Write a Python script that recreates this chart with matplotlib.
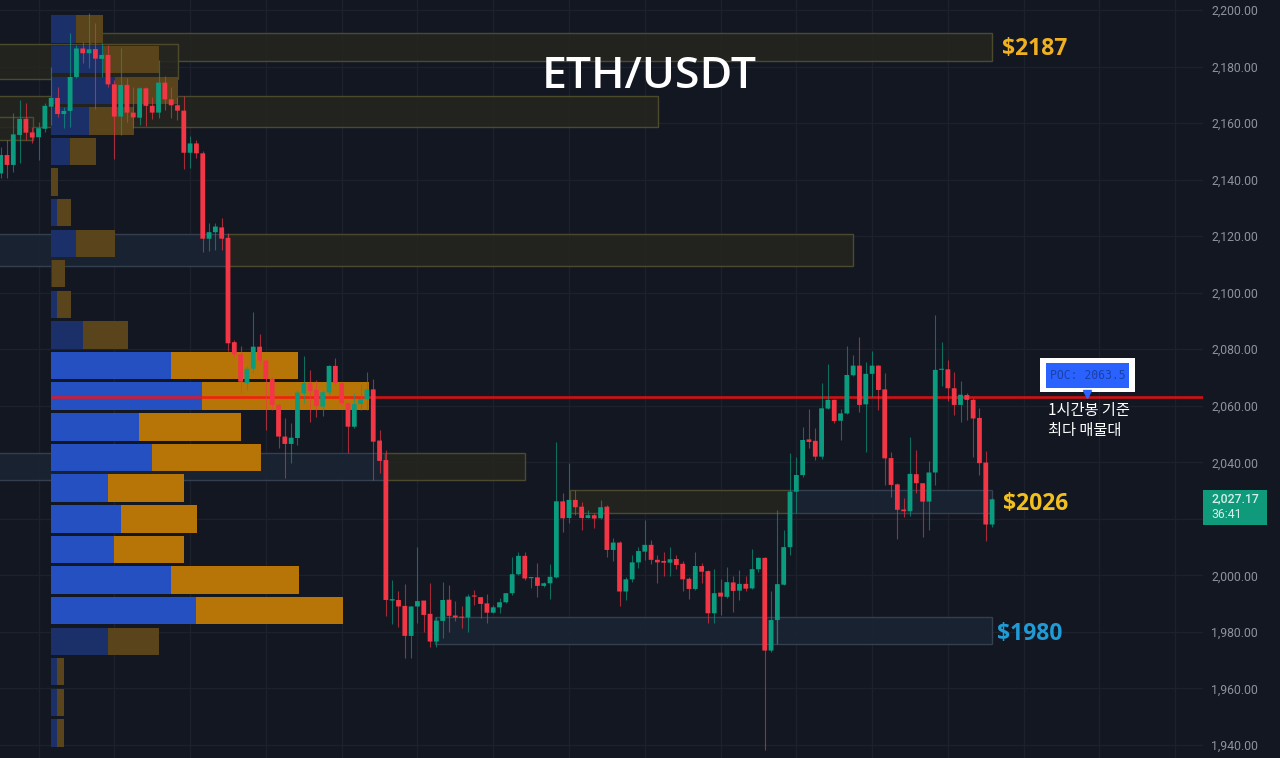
import numpy as np
import matplotlib
matplotlib.use("Agg")
import matplotlib.pyplot as plt
from matplotlib.patches import Rectangle

# candles, one entry per bar
opens = [2142.2,2148.7,2145.2,2155.8,2161.5,2156.7,2155.0,2158.0,2165.8,2168.9,2163.2,2164.3,2176.3,2186.4,2184.7,2186.2,2182.7,2184.1,2173.7,2162.3,
         2173.5,2163.7,2161.9,2172.3,2166.1,2163.7,2174.3,2168.4,2166.3,2164.4,2149.5,2152.8,2149.3,2119.1,2121.4,2123.1,2119.4,2082.5,2078.2,2068.0,
         2073.1,2080.9,2076.0,2069.5,2060.3,2049.1,2046.5,2048.6,2064.4,2068.0,2065.6,2059.7,2064.7,2074.1,2068.0,2060.9,2052.6,2060.6,2062.3,2065.8,
         2047.7,2040.8,1991.1,1991.3,1989.2,1978.6,1989.0,1991.1,1986.4,1976.6,1983.9,1991.4,1985.8,1985.4,1985.1,1992.7,1992.3,1990.1,1986.8,1988.7,
         1990.5,1993.7,2000.4,2006.9,1999.0,1999.3,1996.3,1997.2,1999.3,2026.2,2020.3,2026.7,2024.3,2020.3,2021.3,2020.2,2024.3,2009.0,2011.6,1994.3,
         1998.6,2004.6,2008.4,2010.8,2005.5,2005.1,2004.5,2005.8,2004.1,1998.8,1995.2,2003.3,2001.5,1986.6,1993.9,1992.4,1997.5,1994.6,1997.0,1995.4,
         2002.2,2006.2,1973.4,1984.2,1996.7,2010.0,2029.6,2035.5,2048.1,2047.6,2042.0,2059.0,2062.1,2054.7,2057.3,2070.8,2074.2,2060.5,2071.3,2074.2,
         2065.8,2041.5,2032.2,2023.3,2022.7,2035.8,2032.6,2026.1,2036.4,2072.7,2072.9,2066.2,2060.3,2063.8,2062.1,2055.7,2039.9,2018.0]
highs = [2151.7,2154.0,2163.5,2168.2,2167.0,2158.7,2160.5,2167.0,2180.0,2172.7,2165.8,2191.8,2187.6,2188.8,2198.8,2195.3,2188.2,2187.6,2175.2,2186.4,
         2175.8,2172.7,2172.7,2172.7,2169.3,2182.3,2176.7,2172.9,2169.3,2169.6,2155.4,2154.0,2150.3,2124.5,2124.5,2126.3,2121.2,2083.3,2081.2,2073.9,
         2093.3,2085.4,2076.2,2070.3,2060.9,2055.6,2053.8,2065.6,2077.6,2072.7,2069.1,2065.6,2074.4,2077.0,2068.5,2061.5,2064.4,2067.7,2072.1,2069.4,
         2051.5,2044.4,1998.2,1994.6,1997.0,1989.0,2010.0,1991.1,1997.2,1985.4,1997.5,1996.6,1991.1,1989.0,1993.4,1994.9,1992.5,1993.4,1989.6,1991.9,
         1993.9,2006.6,2008.1,2008.1,1999.6,2004.3,1997.5,2004.0,2047.1,2029.0,2039.9,2030.2,2026.1,2023.2,2022.0,2026.7,2024.9,2013.1,2012.0,1999.6,
         2007.2,2010.2,2019.6,2012.5,2007.2,2008.1,2010.0,2007.2,2005.1,1999.6,2008.1,2004.3,2001.9,2002.2,1998.6,2003.1,1999.8,2001.9,1999.8,2009.2,
         2006.6,2006.4,1994.3,2023.2,2016.1,2043.2,2042.0,2052.6,2058.8,2052.0,2068.0,2074.8,2062.3,2058.8,2081.2,2078.0,2084.5,2075.6,2079.5,2074.4,
         2071.7,2043.8,2032.6,2027.3,2048.9,2044.4,2032.8,2040.6,2092.1,2082.7,2076.2,2072.1,2068.9,2064.4,2062.6,2059.1,2044.1,2027.2]
lows = [2140.5,2140.5,2142.8,2145.8,2154.0,2153.1,2147.0,2157.0,2159.3,2162.3,2158.2,2158.7,2175.8,2181.1,2179.4,2164.9,2176.4,2172.9,2147.2,2155.8,
        2160.5,2158.2,2159.3,2159.0,2161.3,2161.7,2164.6,2161.7,2161.1,2143.7,2144.2,2147.5,2114.5,2114.8,2115.1,2115.1,2079.2,2077.4,2064.4,2065.6,
        2071.5,2074.4,2051.5,2058.5,2045.0,2034.4,2039.7,2046.1,2060.9,2054.4,2056.2,2056.4,2063.8,2067.4,2060.3,2043.2,2052.0,2058.5,2058.5,2033.8,
        2036.1,1985.8,1982.8,1981.9,1970.7,1970.7,1983.1,1980.1,1974.6,1974.8,1977.8,1979.8,1983.7,1981.3,1980.1,1989.6,1984.8,1983.1,1986.6,1986.8,
        1990.1,1993.1,2000.2,1998.2,1995.4,1992.3,1995.8,1991.6,1999.0,2015.5,2018.4,2021.4,2016.1,2020.2,2016.7,2019.9,2006.4,2005.2,1989.2,1991.3,
        1997.8,2002.5,2005.5,2004.1,1997.2,1999.8,1999.8,2002.2,1994.3,1991.6,1994.9,1997.2,1983.1,1983.3,1986.0,1991.9,1987.2,1991.3,1994.3,1995.1,
        2001.3,1938.3,1973.0,1975.8,1996.5,2007.2,2022.0,2034.9,2045.0,2040.8,2041.1,2058.8,2053.8,2047.9,2057.1,2070.6,2057.9,2043.8,2063.0,2058.5,
        2032.0,2027.9,2012.8,2020.8,2021.0,2029.3,2013.5,2016.1,2032.0,2067.0,2061.8,2056.6,2054.4,2055.0,2042.0,2035.5,2012.3,2017.0]
closes = [2148.7,2145.2,2156.0,2161.5,2156.6,2154.9,2158.2,2166.1,2168.9,2163.2,2164.3,2176.3,2186.4,2184.7,2186.1,2182.8,2184.1,2173.7,2162.3,2173.5,
          2163.7,2162.0,2172.3,2166.1,2163.7,2174.3,2168.4,2166.3,2164.4,2149.5,2152.8,2149.3,2119.1,2121.4,2123.4,2119.1,2082.1,2078.2,2068.5,2073.1,
          2080.9,2076.0,2069.5,2060.3,2049.1,2046.5,2048.7,2064.7,2068.0,2065.2,2059.9,2064.8,2074.1,2068.0,2060.9,2052.6,2060.6,2062.3,2065.8,2047.3,
          2040.5,1991.3,1991.6,1989.0,1978.6,1989.0,1990.9,1986.0,1976.6,1984.0,1991.3,1985.7,1985.1,1985.0,1992.5,1992.5,1989.9,1986.8,1988.7,1990.5,
          1993.7,2000.4,2006.9,1998.9,1999.3,1996.3,1997.2,1999.5,2026.2,2020.2,2026.7,2024.1,2020.3,2021.3,2020.1,2024.1,2009.0,2011.6,1994.3,1998.6,
          2004.6,2008.6,2010.8,2005.5,2004.6,2004.5,2005.7,2003.7,1998.6,1995.2,2003.3,2001.3,1986.6,1993.7,1992.5,1997.6,1994.5,1997.0,1995.3,2002.2,
          2006.2,1973.4,1984.2,1996.9,2010.0,2029.6,2035.5,2047.9,2047.2,2042.0,2059.1,2062.1,2054.6,2057.3,2070.9,2074.2,2060.3,2071.3,2074.2,2065.6,
          2041.4,2032.0,2023.2,2022.7,2035.9,2032.6,2026.1,2036.4,2072.7,2072.9,2066.2,2060.3,2063.9,2062.1,2055.5,2039.7,2018.0,2026.9]

# volume profile
vp_levels = [2193.3,2182.5,2171.6,2160.8,2150.0,2139.1,2128.3,2117.5,2106.7,2095.8,2085.0,2074.2,
             2063.4,2052.5,2041.7,2030.9,2020.0,2009.2,1998.4,1987.6,1976.7,1965.9,1955.1,1944.2]
vp_buy = [25,52,64,38,19,0,6,25,1,6,32,120,151,88,101,57,70,63,120,145,57,6,6,6]
vp_sell = [27,56,63,45,26,7,14,39,13,14,45,126,166,102,108,76,76,70,127,146,51,7,7,7]

# zones: left bar, right bar, low, high, colour kind
zone_left = [14.1,-2,-2,-2,-2,36.0,-2,60.9,90.2,125.0,68.8,123.0]
zone_right = [157.0,28.1,104.1,5.1,36.0,135.0,60.9,83.0,125.0,157.0,123.0,157.0]
zone_low = [2181.9,2175.6,2158.6,2154.0,2109.4,2109.4,2033.8,2033.8,2022.1,2022.1,1975.8,1975.8]
zone_high = [2191.9,2188.0,2169.6,2162.1,2120.8,2120.8,2043.3,2043.3,2030.2,2030.2,1985.3,1985.3]
zone_kind = ["y","y","y","y","b","y","b","y","y","b","b","b"]

price_ticks = [1940,1960,1980,2000,2020,2040,2060,2080,2100,2120,2140,2160,2180,2200]
poc = 2063.5
last_price = 2027.17

BG = "#131722"
UP = "#0b9c80"
DOWN = "#f23645"
BAR_PX = 6.314

plt.rcParams["font.family"] = ["Noto Sans CJK KR", "DejaVu Sans"]
fig = plt.figure(figsize=(12.8, 7.58), dpi=100, facecolor=BG)
ax = fig.add_axes([0, 0, 1203 / 1280, 1], facecolor=BG)
ax.set_xlim(-0.106, 190.4)
ax.set_ylim(1935.4, 2203.54)

for s in ax.spines.values():
    s.set_visible(False)
ax.set_axisbelow(True)
ax.set_xticks(np.arange(6, 190, 12))
ax.set_yticks(price_ticks)
# 2,020.00 sits behind the last price badge
ax.set_yticklabels(["" if p == 2020 else f"{p:,.2f}" for p in price_ticks], family="Roboto", fontsize=8.8, color="#8d929c")
ax.yaxis.tick_right()
ax.tick_params(axis="y", length=0, pad=6)
ax.tick_params(axis="x", length=0, labelbottom=False)
ax.grid(color="#1d212c", lw=1)

# zones
for l, r, lo, hi, k in zip(zone_left, zone_right, zone_low, zone_high, zone_kind):
    if k == "y":
        ax.add_patch(Rectangle((l, lo), r - l, hi - lo, fc="#25261f", ec="#55532f", lw=1, zorder=1, alpha=0.85))
    else:
        ax.add_patch(Rectangle((l, lo), r - l, hi - lo, fc="#1a2433", ec="#3a4656", lw=1, zorder=1, alpha=0.85))

# volume profile, bright rows are the value area
vp_start = 50.8 / BAR_PX
for i in range(len(vp_levels)):
    bright = 11 <= i <= 19
    c1 = "#2450c2" if bright else "#1b3068"
    c2 = "#b87507" if bright else "#5a441c"
    ax.barh(vp_levels[i], vp_buy[i] / BAR_PX, left=vp_start, height=9.7, color=c1, zorder=2)
    ax.barh(vp_levels[i], vp_sell[i] / BAR_PX, left=vp_start + vp_buy[i] / BAR_PX, height=9.7, color=c2, zorder=2)

# poc line
ax.hlines(poc - 0.4, vp_start, 190.4, color="#ff1010", lw=1.9, alpha=0.8, zorder=3)

# candles
o = np.array(opens)
h = np.array(highs)
l = np.array(lows)
c = np.array(closes)
x = np.arange(len(o))
cols = [UP if c[i] >= o[i] else DOWN for i in x]
ax.vlines(x, l, h, colors=cols, lw=0.8, alpha=0.65, zorder=4)
bodies = ax.bar(x, np.maximum(np.abs(c - o), 0.4), bottom=np.minimum(o, c), width=0.76, color=cols, zorder=5)
for b in bodies:
    b.set_snap(False)

# labels
fig.text(649 / 1280, 1 - 77 / 758, "ETH/USDT", color="white", fontsize=32, fontweight="semibold",
         family="Open Sans", ha="center", va="center", zorder=10)
ax.text(158.6, 2186.2, "$2187", color="#efb022", fontsize=16.5, fontweight="bold", family="Open Sans", va="center", zorder=7)
ax.text(158.8, 2025.2, "$2026", color="#f2c01e", fontsize=16.5, fontweight="bold", family="Open Sans", va="center", zorder=7)
ax.text(157.8, 1979.2, "$1980", color="#1f9bd8", fontsize=16.5, fontweight="bold", family="Open Sans", va="center", zorder=7)

# poc box
ax.add_patch(Rectangle((164.6, 2064.9), 15.1, 12.0, fc="white", ec="none", zorder=7))
ax.add_patch(Rectangle((165.6, 2066.3), 13.1, 8.8, fc="#2962ff", ec="none", zorder=8))
ax.plot([172.1], [2064.2], marker="v", ms=6, color="#2962ff", zorder=8)
ax.text(172.1, 2070.7, "POC: 2063.5", color="#1c3fa8", fontsize=8.3, family="DejaVu Sans Mono", ha="center", va="center", zorder=9)
ax.text(165.9, 2058.2, "1시간봉 기준", color="white", fontsize=11, fontweight="medium", va="center", zorder=7)
ax.text(165.9, 2051.4, "최다 매물대", color="white", fontsize=11, fontweight="medium", va="center", zorder=7)

# last price badge on the scale
ax.add_patch(Rectangle((190.4, 2017.8), 10.2, 12.4, fc="#0f9a7c", ec="none", clip_on=False, zorder=7))
ax.text(191.8, 2027.0, f"{last_price:,.2f}", color="#d5efe9", fontsize=8.8, family="Roboto", fontweight="medium",
        ha="left", va="center", clip_on=False, zorder=8)
ax.text(191.8, 2021.4, "36:41", color="#d5efe9", fontsize=8.8, family="Roboto", ha="left", va="center", clip_on=False, zorder=8)

fig.savefig("out.png", dpi=100, facecolor=BG)
